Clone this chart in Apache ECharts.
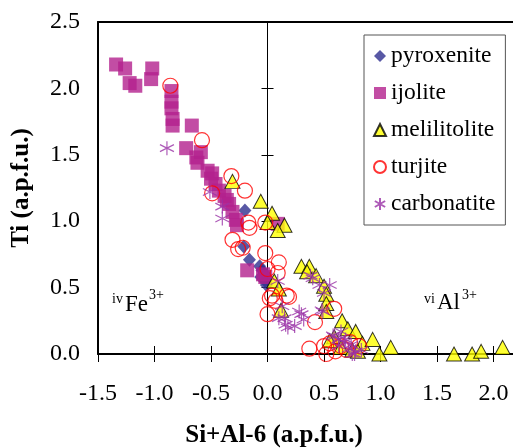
<!DOCTYPE html>
<html>
<head>
<meta charset="utf-8">
<script src="https://cdn.jsdelivr.net/npm/echarts@6/dist/echarts.min.js"></script>
<style>html,body{margin:0;padding:0;background:#fff;overflow:hidden}#c{width:513px;height:448px}</style>
</head>
<body>
<div id="c"></div>
<script>
var seriesNames = ['pyroxenite', 'ijolite', 'melilitolite', 'turjite', 'carbonatite'];
var xTitle = 'Si+Al-6 (a.p.f.u.)';
var yTitle = 'Ti (a.p.f.u.)';

var pyroxenite = [[-0.20,1.08],[-0.21,0.81],[-0.16,0.71],[-0.07,0.66],[-0.05,0.63],[-0.06,0.58],[-0.02,0.55],[-0.03,0.61],[0.0,0.57],[-0.01,0.52]];

var ijolite = [[-1.34,2.18],[-1.26,2.15],[-1.22,2.04],[-1.17,2.02],[-1.02,2.15],[-1.03,2.07],
  [-0.85,1.98],[-0.85,1.90],[-0.85,1.85],[-0.84,1.77],[-0.84,1.72],[-0.67,1.72],
  [-0.72,1.55],[-0.59,1.52],[-0.63,1.48],[-0.62,1.44],[-0.53,1.38],[-0.49,1.36],[-0.50,1.32],[-0.46,1.28],
  [-0.43,1.23],[-0.38,1.19],[-0.36,1.16],[-0.34,1.13],[-0.31,1.07],[-0.28,1.01],[-0.27,0.97],
  [-0.18,0.63],[-0.02,0.58],[-0.04,0.60],[0.09,0.98]];

var melilitolite = [[-0.31,1.30],[-0.06,1.15],[0.04,1.06],[0.0,0.99],[0.15,0.97],[0.09,0.93],
  [0.30,0.66],[0.37,0.66],[0.35,0.62],[0.43,0.59],[0.50,0.51],[0.52,0.45],[0.52,0.38],[0.52,0.32],
  [0.06,0.55],[0.10,0.49],[0.12,0.33],[0.66,0.25],[0.71,0.19],[0.78,0.17],[0.59,0.13],[0.84,0.08],
  [0.93,0.11],[0.99,0.0],[1.09,0.05],[1.65,0.0],[1.81,0.0],[1.89,0.02],[2.08,0.05],[0.55,0.10],
  [0.65,0.05],[0.75,0.03],[0.80,0.02]];

var turjite = [[-0.86,2.02],[-0.58,1.61],[-0.32,1.34],[-0.49,1.21],[-0.20,1.23],[-0.17,0.99],
  [-0.16,0.95],[-0.02,0.99],[-0.31,0.86],[-0.22,0.80],[-0.26,0.79],[-0.02,0.76],[0.10,0.69],
  [0.0,0.64],[0.09,0.61],[0.04,0.44],[0.02,0.42],[0.07,0.40],[0.17,0.44],[0.19,0.43],[0.0,0.30],
  [0.42,0.24],[0.59,0.34],[0.37,0.04],[0.50,0.06],[0.55,0.08],[0.65,0.06],[0.73,0.09],[0.81,0.06],
  [0.52,0.0],[0.60,0.02],[0.70,0.03]];

var carbonatite = [[-0.89,1.55],[-0.51,1.22],[-0.40,1.11],[-0.40,1.02],[0.09,0.55],[0.10,0.27],
  [0.13,0.36],[0.15,0.27],[0.16,0.22],[0.18,0.20],[0.24,0.21],[0.28,0.32],[0.32,0.26],[0.30,0.30],
  [0.38,0.59],[0.40,0.57],[0.46,0.52],[0.50,0.46],[0.55,0.52],[0.48,0.33],[0.49,0.32],[0.58,0.14],
  [0.59,0.13],[0.63,0.11],[0.65,0.17],[0.68,0.09],[0.69,0.11],[0.72,0.04],[0.74,0.07],[0.75,0.0],
  [0.78,0.02],[0.77,0.0],[0.83,0.03],[0.63,0.06]];

var FONT = 'Liberation Serif';
var chart = echarts.init(document.getElementById('c'));
function fmt(v){ return v.toFixed(1); }
// x range is cut at the right edge of the picture (plot continues beyond it)
var xBase = {type:'value', min:-1.5, max:2.172, interval:0.5, splitLine:{show:false}};
var yBase = {type:'value', min:0, max:2.5, interval:0.5, splitLine:{show:false}};

chart.setOption({
  animation:false,
  backgroundColor:'#fff',
  grid:{left:98, top:22, right:0, bottom:94, show:false, containLabel:false, outerBoundsMode:'none'},
  xAxis:[
    Object.assign({}, xBase, {
      position:'bottom',
      axisLine:{onZero:false, lineStyle:{color:'#000', width:2}},
      axisTick:{length:8, lineStyle:{color:'#000', width:1}},
      axisLabel:{margin:28, fontSize:24, fontFamily:FONT, color:'#000', formatter:fmt, showMaxLabel:false},
      name:xTitle, nameLocation:'middle', nameGap:69,
      nameTextStyle:{fontSize:25, fontWeight:'bold', fontFamily:FONT, color:'#000', padding:[0,63,0,0]}
    }),
    Object.assign({}, xBase, {
      position:'bottom',
      axisLine:{show:false, onZero:false},
      axisTick:{inside:true, length:8, lineStyle:{color:'#000', width:1}},
      axisLabel:{show:false}
    }),
    Object.assign({}, xBase, {
      position:'top',
      axisLine:{show:true, onZero:false, lineStyle:{color:'#000', width:2}},
      axisTick:{show:false},
      axisLabel:{show:false}
    })
  ],
  yAxis:[
    Object.assign({}, yBase, {
      position:'left',
      axisLine:{show:true, onZero:false, lineStyle:{color:'#000', width:2}},
      axisTick:{show:false},
      axisLabel:{margin:18, fontSize:24, fontFamily:FONT, color:'#000', formatter:fmt},
      name:yTitle, nameLocation:'middle', nameGap:64, nameRotate:90,
      nameTextStyle:{fontSize:25, fontWeight:'bold', fontFamily:FONT, color:'#000'}
    }),
    Object.assign({}, yBase, {
      position:'left',
      axisLine:{show:true, onZero:true, onZeroAxisIndex:0, lineStyle:{color:'#000', width:1}},
      axisTick:{length:6, lineStyle:{color:'#000', width:1}},
      axisLabel:{show:false}
    }),
    Object.assign({}, yBase, {
      position:'left',
      axisLine:{show:false, onZero:true, onZeroAxisIndex:0},
      axisTick:{inside:true, length:6, lineStyle:{color:'#000', width:1}},
      axisLabel:{show:false}
    })
  ],
  legend:{
    orient:'vertical', left:364, top:35, padding:[9,10,9,9], itemGap:13,
    itemWidth:12, itemHeight:12, backgroundColor:'#fff', borderColor:'#555', borderWidth:1,
    textStyle:{fontSize:23.5, fontFamily:FONT, color:'#000'},
    data:seriesNames
  },
  graphic:[
    {type:'text', left:112, top:292, style:{text:'iv', fontSize:14, fontFamily:FONT, fill:'#000'}},
    {type:'text', left:125, top:293, style:{text:'Fe', fontSize:23, fontFamily:FONT, fill:'#000'}},
    {type:'text', left:149, top:288, style:{text:'3+', fontSize:14, fontFamily:FONT, fill:'#000'}},
    {type:'text', left:424, top:292, style:{text:'vi', fontSize:14, fontFamily:FONT, fill:'#000'}},
    {type:'text', left:437, top:291, style:{text:'Al', fontSize:23, fontFamily:FONT, fill:'#000'}},
    {type:'text', left:462, top:288, style:{text:'3+', fontSize:14, fontFamily:FONT, fill:'#000'}}
  ],
  series:[
    {name:seriesNames[0], type:'scatter', data:pyroxenite, symbol:'diamond', symbolSize:[13,14],
      itemStyle:{color:'#2E2E8E'}},
    {name:seriesNames[1], type:'scatter', data:ijolite, symbol:'rect', symbolSize:14,
      itemStyle:{color:'#B3218D'}},
    {name:seriesNames[2], type:'scatter', data:melilitolite, symbol:'triangle', symbolSize:[15,14],
      itemStyle:{color:'#FFFF00', borderColor:'#000', borderWidth:1}},
    {name:seriesNames[3], type:'scatter', data:turjite, symbol:'circle', symbolSize:15,
      itemStyle:{color:'rgba(255,255,255,0)', borderColor:'#FF0000', borderWidth:1.2}},
    {name:seriesNames[4], type:'scatter', data:carbonatite, symbol:'path://M5 0L5 10M0.7 2.5L9.3 7.5M0.7 7.5L9.3 2.5', symbolSize:14,
      itemStyle:{color:'rgba(0,0,0,0)', borderColor:'#9A32A6', borderWidth:1.2}}
  ]
});
</script>
</body>
</html>
